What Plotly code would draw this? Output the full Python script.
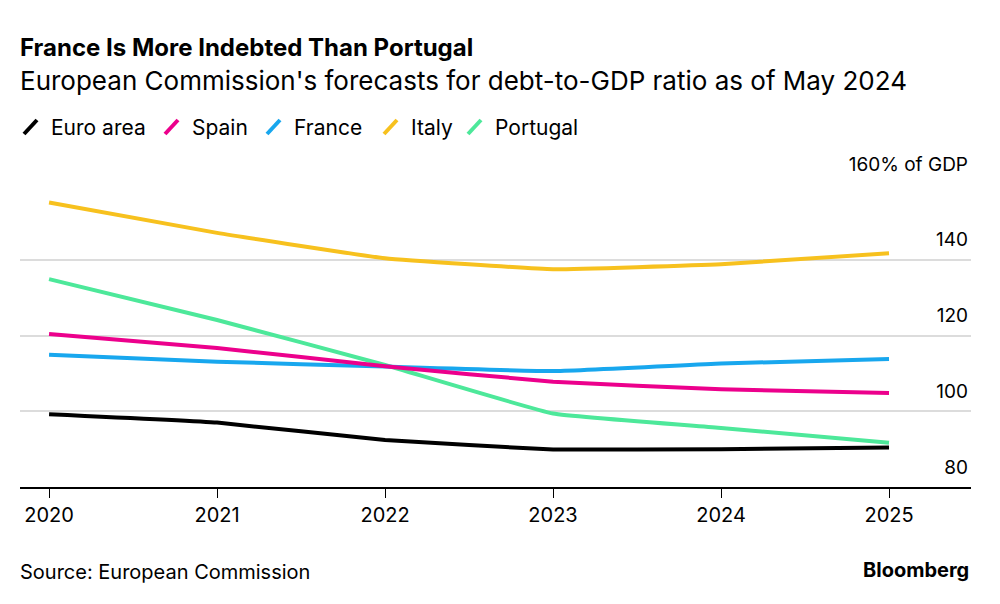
# Debt-to-GDP forecasts, Bloomberg style line chart
import plotly.graph_objects as go

years = [2020, 2021, 2022, 2023, 2024, 2025]
euro_area = [99.2, 97.0, 92.4, 89.9, 90.0, 90.4]
spain = [120.4, 116.7, 111.9, 107.8, 105.8, 104.8]
france = [114.9, 113.1, 111.8, 110.6, 112.6, 113.8]
italy = [155.1, 147.1, 140.4, 137.5, 138.8, 141.7]
portugal = [134.9, 124.1, 112.2, 99.4, 95.6, 91.7]

series_names = ["Euro area", "Spain", "France", "Italy", "Portugal"]
series_values = [euro_area, spain, france, italy, portugal]
series_colors = ["#000000", "#ec008c", "#18a7ee", "#f7c11e", "#4de89a"]

y_ticks = [80, 100, 120, 140, 160]
y_ticktext = ["80", "100", "120", "140", "160% of GDP"]

FONT = "Inter"

# page geometry (pixels)
W, H = 1000, 604
ML, MR, MT, MB = 20, 29, 184, 117
PW, PH = W - ML - MR, H - MT - MB


def px(x):
    return (x - ML) / PW


def py(y):
    return (H - MB - y) / PH


fig = go.Figure()

# draw order: lines lower in the stack first
draw_order = [3, 4, 2, 1, 0]
for i in draw_order:
    fig.add_trace(go.Scatter(
        x=years, y=series_values[i],
        mode="lines",
        name=series_names[i],
        line=dict(color=series_colors[i], width=4, shape="spline", smoothing=0.3),
        showlegend=False,
    ))

# hand-made legend with slanted glyphs
legend_x = [22, 163, 265, 382, 466]
for name, color, lx in zip(series_names, series_colors, legend_x):
    fig.add_shape(type="line", xref="paper", yref="paper",
                  x0=px(lx + 2), y0=py(134), x1=px(lx + 15), y1=py(120),
                  line=dict(color=color, width=4))
    fig.add_annotation(x=px(lx + 27), y=py(127), xref="paper", yref="paper",
                       text=name, showarrow=False, xanchor="left", yanchor="middle",
                       font=dict(family=FONT, size=21, color="#000000"))

# titles and footer
fig.add_annotation(x=px(18), y=py(47), xref="paper", yref="paper",
                   text="<b>France Is More Indebted Than Portugal</b>", showarrow=False,
                   xanchor="left", yanchor="middle",
                   font=dict(family=FONT, size=24, color="#000000"))
fig.add_annotation(x=px(18), y=py(80), xref="paper", yref="paper",
                   text="European Commission's forecasts for debt-to-GDP ratio as of May 2024",
                   showarrow=False, xanchor="left", yanchor="middle",
                   font=dict(family=FONT, size=26, color="#000000"))
fig.add_annotation(x=px(18), y=py(572), xref="paper", yref="paper",
                   text="Source: European Commission", showarrow=False,
                   xanchor="left", yanchor="middle",
                   font=dict(family=FONT, size=20, color="#000000"))
fig.add_annotation(x=px(971), y=py(570), xref="paper", yref="paper",
                   text="<b>Bloomberg</b>", showarrow=False,
                   xanchor="right", yanchor="middle",
                   font=dict(family=FONT, size=20, color="#000000"))

fig.update_layout(
    width=W, height=H,
    margin=dict(l=ML, r=MR, t=MT, b=MB, pad=0),
    plot_bgcolor="white", paper_bgcolor="white",
    showlegend=False,
    xaxis=dict(
        range=[2019.827, 2025.488],
        tickvals=years, ticktext=[str(y) for y in years],
        showgrid=False, zeroline=False,
        showline=True, linecolor="#000000", linewidth=1.5,
        ticks="outside", ticklen=9, tickwidth=1, tickcolor="#000000",
        tickfont=dict(family=FONT, size=20, color="#000000"),
    ),
    yaxis=dict(
        range=[80, 160], side="right",
        tickvals=y_ticks, ticktext=y_ticktext,
        ticklabelposition="inside", ticklabelshift=-20, ticklabeloverflow="allow",
        showgrid=True, gridcolor="#dcdcdc", gridwidth=1.5,
        zeroline=False, showline=False, ticks="",
        tickfont=dict(family=FONT, size=19, color="#000000"),
    ),
)

fig.write_html("out.html", config={"displayModeBar": False},
               post_script="document.body.style.margin='0px';")
